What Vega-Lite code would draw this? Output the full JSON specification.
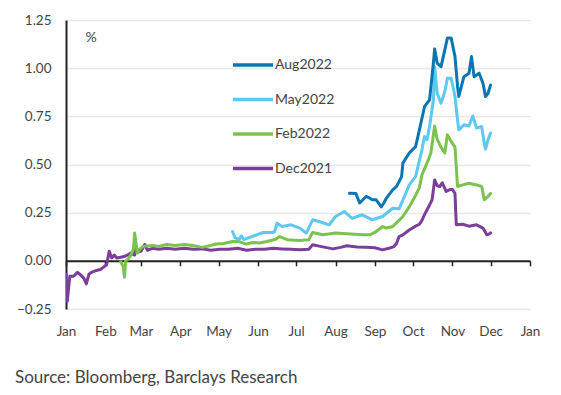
{
  "$schema": "https://vega.github.io/schema/vega-lite/v6.json",
  "width": 464,
  "height": 289,
  "autosize": {"type": "none"},
  "padding": {"left": 66, "top": 20, "right": 31, "bottom": 86},
  "background": "white",
  "config": {
    "font": "Lato",
    "view": {"stroke": null},
    "axis": {"labelFont": "Lato", "labelFontSize": 13.5, "labelColor": "#444444", "titleFont": "Lato"}
  },
  "title": {
    "text": "Source: Bloomberg, Barclays Research",
    "orient": "bottom",
    "anchor": "start",
    "frame": "group",
    "dx": -51,
    "offset": 32,
    "font": "Lato",
    "fontSize": 17,
    "fontWeight": "normal",
    "color": "#444444"
  },
  "data": {
    "values": [
      {"s": "Dec2021", "d": "2022-01-01", "v": -0.07},
      {"s": "Dec2021", "d": "2022-01-02", "v": -0.21},
      {"s": "Dec2021", "d": "2022-01-04", "v": -0.08},
      {"s": "Dec2021", "d": "2022-01-07", "v": -0.08},
      {"s": "Dec2021", "d": "2022-01-10", "v": -0.06},
      {"s": "Dec2021", "d": "2022-01-12", "v": -0.07},
      {"s": "Dec2021", "d": "2022-01-15", "v": -0.09},
      {"s": "Dec2021", "d": "2022-01-17", "v": -0.12},
      {"s": "Dec2021", "d": "2022-01-19", "v": -0.07},
      {"s": "Dec2021", "d": "2022-01-21", "v": -0.06},
      {"s": "Dec2021", "d": "2022-01-25", "v": -0.05},
      {"s": "Dec2021", "d": "2022-01-28", "v": -0.045},
      {"s": "Dec2021", "d": "2022-01-30", "v": -0.035},
      {"s": "Dec2021", "d": "2022-02-02", "v": -0.02},
      {"s": "Dec2021", "d": "2022-02-04", "v": 0.05},
      {"s": "Dec2021", "d": "2022-02-06", "v": 0.015},
      {"s": "Dec2021", "d": "2022-02-08", "v": 0.03},
      {"s": "Dec2021", "d": "2022-02-10", "v": 0.015},
      {"s": "Dec2021", "d": "2022-02-14", "v": 0.02},
      {"s": "Dec2021", "d": "2022-02-17", "v": 0.025},
      {"s": "Dec2021", "d": "2022-02-21", "v": 0.04},
      {"s": "Dec2021", "d": "2022-02-24", "v": 0.03},
      {"s": "Dec2021", "d": "2022-02-25", "v": 0.075},
      {"s": "Dec2021", "d": "2022-02-27", "v": 0.045},
      {"s": "Dec2021", "d": "2022-03-01", "v": 0.05},
      {"s": "Dec2021", "d": "2022-03-04", "v": 0.085},
      {"s": "Dec2021", "d": "2022-03-06", "v": 0.055},
      {"s": "Dec2021", "d": "2022-03-10", "v": 0.065},
      {"s": "Dec2021", "d": "2022-03-15", "v": 0.06},
      {"s": "Dec2021", "d": "2022-03-21", "v": 0.065},
      {"s": "Dec2021", "d": "2022-03-28", "v": 0.06},
      {"s": "Dec2021", "d": "2022-04-04", "v": 0.065},
      {"s": "Dec2021", "d": "2022-04-11", "v": 0.06},
      {"s": "Dec2021", "d": "2022-04-18", "v": 0.062},
      {"s": "Dec2021", "d": "2022-04-25", "v": 0.055},
      {"s": "Dec2021", "d": "2022-05-02", "v": 0.06},
      {"s": "Dec2021", "d": "2022-05-09", "v": 0.06},
      {"s": "Dec2021", "d": "2022-05-16", "v": 0.065},
      {"s": "Dec2021", "d": "2022-05-23", "v": 0.055},
      {"s": "Dec2021", "d": "2022-05-30", "v": 0.06},
      {"s": "Dec2021", "d": "2022-06-06", "v": 0.06},
      {"s": "Dec2021", "d": "2022-06-13", "v": 0.065},
      {"s": "Dec2021", "d": "2022-06-20", "v": 0.062},
      {"s": "Dec2021", "d": "2022-06-27", "v": 0.06},
      {"s": "Dec2021", "d": "2022-07-04", "v": 0.057},
      {"s": "Dec2021", "d": "2022-07-11", "v": 0.06},
      {"s": "Dec2021", "d": "2022-07-14", "v": 0.083},
      {"s": "Dec2021", "d": "2022-07-20", "v": 0.075},
      {"s": "Dec2021", "d": "2022-07-30", "v": 0.062},
      {"s": "Dec2021", "d": "2022-08-05", "v": 0.07},
      {"s": "Dec2021", "d": "2022-08-10", "v": 0.078},
      {"s": "Dec2021", "d": "2022-08-18", "v": 0.072},
      {"s": "Dec2021", "d": "2022-08-25", "v": 0.07},
      {"s": "Dec2021", "d": "2022-09-01", "v": 0.068},
      {"s": "Dec2021", "d": "2022-09-07", "v": 0.057},
      {"s": "Dec2021", "d": "2022-09-12", "v": 0.065},
      {"s": "Dec2021", "d": "2022-09-16", "v": 0.074},
      {"s": "Dec2021", "d": "2022-09-18", "v": 0.09},
      {"s": "Dec2021", "d": "2022-09-20", "v": 0.126},
      {"s": "Dec2021", "d": "2022-09-23", "v": 0.135},
      {"s": "Dec2021", "d": "2022-09-28", "v": 0.16},
      {"s": "Dec2021", "d": "2022-10-03", "v": 0.18},
      {"s": "Dec2021", "d": "2022-10-06", "v": 0.19},
      {"s": "Dec2021", "d": "2022-10-08", "v": 0.21},
      {"s": "Dec2021", "d": "2022-10-10", "v": 0.24},
      {"s": "Dec2021", "d": "2022-10-12", "v": 0.265},
      {"s": "Dec2021", "d": "2022-10-14", "v": 0.29},
      {"s": "Dec2021", "d": "2022-10-16", "v": 0.317},
      {"s": "Dec2021", "d": "2022-10-18", "v": 0.42},
      {"s": "Dec2021", "d": "2022-10-20", "v": 0.39},
      {"s": "Dec2021", "d": "2022-10-22", "v": 0.385},
      {"s": "Dec2021", "d": "2022-10-24", "v": 0.405},
      {"s": "Dec2021", "d": "2022-10-27", "v": 0.36},
      {"s": "Dec2021", "d": "2022-10-30", "v": 0.37},
      {"s": "Dec2021", "d": "2022-11-01", "v": 0.37},
      {"s": "Dec2021", "d": "2022-11-03", "v": 0.35},
      {"s": "Dec2021", "d": "2022-11-04", "v": 0.187},
      {"s": "Dec2021", "d": "2022-11-09", "v": 0.19},
      {"s": "Dec2021", "d": "2022-11-14", "v": 0.18},
      {"s": "Dec2021", "d": "2022-11-20", "v": 0.187},
      {"s": "Dec2021", "d": "2022-11-25", "v": 0.17},
      {"s": "Dec2021", "d": "2022-11-28", "v": 0.135},
      {"s": "Dec2021", "d": "2022-11-30", "v": 0.14},
      {"s": "Dec2021", "d": "2022-12-01", "v": 0.145},

      {"s": "Feb2022", "d": "2022-02-13", "v": -0.005},
      {"s": "Feb2022", "d": "2022-02-15", "v": -0.03},
      {"s": "Feb2022", "d": "2022-02-16", "v": -0.085},
      {"s": "Feb2022", "d": "2022-02-17", "v": 0.0},
      {"s": "Feb2022", "d": "2022-02-19", "v": 0.01},
      {"s": "Feb2022", "d": "2022-02-21", "v": 0.03},
      {"s": "Feb2022", "d": "2022-02-23", "v": 0.06},
      {"s": "Feb2022", "d": "2022-02-24", "v": 0.145},
      {"s": "Feb2022", "d": "2022-02-26", "v": 0.04},
      {"s": "Feb2022", "d": "2022-02-28", "v": 0.06},
      {"s": "Feb2022", "d": "2022-03-03", "v": 0.075},
      {"s": "Feb2022", "d": "2022-03-10", "v": 0.08},
      {"s": "Feb2022", "d": "2022-03-15", "v": 0.075},
      {"s": "Feb2022", "d": "2022-03-21", "v": 0.085},
      {"s": "Feb2022", "d": "2022-03-28", "v": 0.08},
      {"s": "Feb2022", "d": "2022-04-04", "v": 0.085},
      {"s": "Feb2022", "d": "2022-04-11", "v": 0.08},
      {"s": "Feb2022", "d": "2022-04-18", "v": 0.07},
      {"s": "Feb2022", "d": "2022-04-25", "v": 0.08},
      {"s": "Feb2022", "d": "2022-04-29", "v": 0.087},
      {"s": "Feb2022", "d": "2022-05-05", "v": 0.09},
      {"s": "Feb2022", "d": "2022-05-12", "v": 0.1},
      {"s": "Feb2022", "d": "2022-05-17", "v": 0.1},
      {"s": "Feb2022", "d": "2022-05-23", "v": 0.087},
      {"s": "Feb2022", "d": "2022-05-28", "v": 0.095},
      {"s": "Feb2022", "d": "2022-06-02", "v": 0.093},
      {"s": "Feb2022", "d": "2022-06-08", "v": 0.1},
      {"s": "Feb2022", "d": "2022-06-15", "v": 0.112},
      {"s": "Feb2022", "d": "2022-06-18", "v": 0.126},
      {"s": "Feb2022", "d": "2022-06-24", "v": 0.11},
      {"s": "Feb2022", "d": "2022-07-04", "v": 0.105},
      {"s": "Feb2022", "d": "2022-07-11", "v": 0.11},
      {"s": "Feb2022", "d": "2022-07-14", "v": 0.147},
      {"s": "Feb2022", "d": "2022-07-22", "v": 0.135},
      {"s": "Feb2022", "d": "2022-08-01", "v": 0.144},
      {"s": "Feb2022", "d": "2022-08-10", "v": 0.14},
      {"s": "Feb2022", "d": "2022-08-22", "v": 0.135},
      {"s": "Feb2022", "d": "2022-08-28", "v": 0.135},
      {"s": "Feb2022", "d": "2022-09-02", "v": 0.152},
      {"s": "Feb2022", "d": "2022-09-07", "v": 0.178},
      {"s": "Feb2022", "d": "2022-09-10", "v": 0.17},
      {"s": "Feb2022", "d": "2022-09-15", "v": 0.178},
      {"s": "Feb2022", "d": "2022-09-18", "v": 0.197},
      {"s": "Feb2022", "d": "2022-09-23", "v": 0.23},
      {"s": "Feb2022", "d": "2022-09-28", "v": 0.28},
      {"s": "Feb2022", "d": "2022-10-03", "v": 0.34},
      {"s": "Feb2022", "d": "2022-10-06", "v": 0.38},
      {"s": "Feb2022", "d": "2022-10-08", "v": 0.446},
      {"s": "Feb2022", "d": "2022-10-12", "v": 0.507},
      {"s": "Feb2022", "d": "2022-10-15", "v": 0.56},
      {"s": "Feb2022", "d": "2022-10-18", "v": 0.70},
      {"s": "Feb2022", "d": "2022-10-20", "v": 0.63},
      {"s": "Feb2022", "d": "2022-10-23", "v": 0.59},
      {"s": "Feb2022", "d": "2022-10-26", "v": 0.56},
      {"s": "Feb2022", "d": "2022-10-28", "v": 0.654},
      {"s": "Feb2022", "d": "2022-10-31", "v": 0.62},
      {"s": "Feb2022", "d": "2022-11-03", "v": 0.59},
      {"s": "Feb2022", "d": "2022-11-05", "v": 0.386},
      {"s": "Feb2022", "d": "2022-11-09", "v": 0.394},
      {"s": "Feb2022", "d": "2022-11-14", "v": 0.403},
      {"s": "Feb2022", "d": "2022-11-20", "v": 0.394},
      {"s": "Feb2022", "d": "2022-11-24", "v": 0.386},
      {"s": "Feb2022", "d": "2022-11-26", "v": 0.317},
      {"s": "Feb2022", "d": "2022-11-29", "v": 0.334},
      {"s": "Feb2022", "d": "2022-12-01", "v": 0.35},

      {"s": "May2022", "d": "2022-05-12", "v": 0.152},
      {"s": "May2022", "d": "2022-05-14", "v": 0.12},
      {"s": "May2022", "d": "2022-05-17", "v": 0.11},
      {"s": "May2022", "d": "2022-05-19", "v": 0.13},
      {"s": "May2022", "d": "2022-05-21", "v": 0.11},
      {"s": "May2022", "d": "2022-05-25", "v": 0.12},
      {"s": "May2022", "d": "2022-05-31", "v": 0.135},
      {"s": "May2022", "d": "2022-06-05", "v": 0.147},
      {"s": "May2022", "d": "2022-06-12", "v": 0.147},
      {"s": "May2022", "d": "2022-06-14", "v": 0.15},
      {"s": "May2022", "d": "2022-06-16", "v": 0.195},
      {"s": "May2022", "d": "2022-06-20", "v": 0.178},
      {"s": "May2022", "d": "2022-06-27", "v": 0.187},
      {"s": "May2022", "d": "2022-07-04", "v": 0.17},
      {"s": "May2022", "d": "2022-07-09", "v": 0.144},
      {"s": "May2022", "d": "2022-07-14", "v": 0.213},
      {"s": "May2022", "d": "2022-07-19", "v": 0.204},
      {"s": "May2022", "d": "2022-07-27", "v": 0.187},
      {"s": "May2022", "d": "2022-08-01", "v": 0.23},
      {"s": "May2022", "d": "2022-08-08", "v": 0.256},
      {"s": "May2022", "d": "2022-08-14", "v": 0.22},
      {"s": "May2022", "d": "2022-08-22", "v": 0.239},
      {"s": "May2022", "d": "2022-08-30", "v": 0.213},
      {"s": "May2022", "d": "2022-09-07", "v": 0.23},
      {"s": "May2022", "d": "2022-09-15", "v": 0.273},
      {"s": "May2022", "d": "2022-09-20", "v": 0.27},
      {"s": "May2022", "d": "2022-09-24", "v": 0.33},
      {"s": "May2022", "d": "2022-09-28", "v": 0.394},
      {"s": "May2022", "d": "2022-10-03", "v": 0.437},
      {"s": "May2022", "d": "2022-10-08", "v": 0.576},
      {"s": "May2022", "d": "2022-10-10", "v": 0.645},
      {"s": "May2022", "d": "2022-10-12", "v": 0.628},
      {"s": "May2022", "d": "2022-10-14", "v": 0.697},
      {"s": "May2022", "d": "2022-10-17", "v": 0.835},
      {"s": "May2022", "d": "2022-10-18", "v": 1.008},
      {"s": "May2022", "d": "2022-10-20", "v": 0.87},
      {"s": "May2022", "d": "2022-10-23", "v": 0.818},
      {"s": "May2022", "d": "2022-10-26", "v": 0.879},
      {"s": "May2022", "d": "2022-10-28", "v": 0.948},
      {"s": "May2022", "d": "2022-10-31", "v": 0.948},
      {"s": "May2022", "d": "2022-11-03", "v": 0.853},
      {"s": "May2022", "d": "2022-11-05", "v": 0.73},
      {"s": "May2022", "d": "2022-11-06", "v": 0.68},
      {"s": "May2022", "d": "2022-11-10", "v": 0.706},
      {"s": "May2022", "d": "2022-11-14", "v": 0.70},
      {"s": "May2022", "d": "2022-11-17", "v": 0.752},
      {"s": "May2022", "d": "2022-11-20", "v": 0.689},
      {"s": "May2022", "d": "2022-11-24", "v": 0.697},
      {"s": "May2022", "d": "2022-11-26", "v": 0.61},
      {"s": "May2022", "d": "2022-11-27", "v": 0.58},
      {"s": "May2022", "d": "2022-11-29", "v": 0.628},
      {"s": "May2022", "d": "2022-12-01", "v": 0.663},

      {"s": "Aug2022", "d": "2022-08-12", "v": 0.351},
      {"s": "Aug2022", "d": "2022-08-17", "v": 0.35},
      {"s": "Aug2022", "d": "2022-08-20", "v": 0.30},
      {"s": "Aug2022", "d": "2022-08-25", "v": 0.334},
      {"s": "Aug2022", "d": "2022-08-28", "v": 0.325},
      {"s": "Aug2022", "d": "2022-08-30", "v": 0.317},
      {"s": "Aug2022", "d": "2022-09-02", "v": 0.317},
      {"s": "Aug2022", "d": "2022-09-06", "v": 0.28},
      {"s": "Aug2022", "d": "2022-09-08", "v": 0.30},
      {"s": "Aug2022", "d": "2022-09-10", "v": 0.325},
      {"s": "Aug2022", "d": "2022-09-12", "v": 0.342},
      {"s": "Aug2022", "d": "2022-09-15", "v": 0.368},
      {"s": "Aug2022", "d": "2022-09-18", "v": 0.386},
      {"s": "Aug2022", "d": "2022-09-22", "v": 0.437},
      {"s": "Aug2022", "d": "2022-09-23", "v": 0.507},
      {"s": "Aug2022", "d": "2022-09-28", "v": 0.56},
      {"s": "Aug2022", "d": "2022-10-03", "v": 0.593},
      {"s": "Aug2022", "d": "2022-10-06", "v": 0.68},
      {"s": "Aug2022", "d": "2022-10-10", "v": 0.80},
      {"s": "Aug2022", "d": "2022-10-14", "v": 0.835},
      {"s": "Aug2022", "d": "2022-10-17", "v": 1.026},
      {"s": "Aug2022", "d": "2022-10-18", "v": 1.10},
      {"s": "Aug2022", "d": "2022-10-20", "v": 1.026},
      {"s": "Aug2022", "d": "2022-10-23", "v": 1.008},
      {"s": "Aug2022", "d": "2022-10-26", "v": 1.095},
      {"s": "Aug2022", "d": "2022-10-28", "v": 1.156},
      {"s": "Aug2022", "d": "2022-10-31", "v": 1.156},
      {"s": "Aug2022", "d": "2022-11-03", "v": 1.06},
      {"s": "Aug2022", "d": "2022-11-05", "v": 0.905},
      {"s": "Aug2022", "d": "2022-11-06", "v": 0.853},
      {"s": "Aug2022", "d": "2022-11-10", "v": 0.956},
      {"s": "Aug2022", "d": "2022-11-14", "v": 0.974},
      {"s": "Aug2022", "d": "2022-11-16", "v": 1.06},
      {"s": "Aug2022", "d": "2022-11-18", "v": 0.956},
      {"s": "Aug2022", "d": "2022-11-22", "v": 0.974},
      {"s": "Aug2022", "d": "2022-11-25", "v": 0.922},
      {"s": "Aug2022", "d": "2022-11-27", "v": 0.853},
      {"s": "Aug2022", "d": "2022-11-29", "v": 0.87},
      {"s": "Aug2022", "d": "2022-12-01", "v": 0.913}
    ]
  },
  "mark": {"type": "line", "strokeWidth": 3, "strokeJoin": "round", "strokeCap": "round", "clip": true},
  "encoding": {
    "x": {
      "field": "d",
      "type": "temporal",
      "scale": {"domain": [{"year": 2022, "month": 1, "date": 1}, {"year": 2023, "month": 1, "date": 1}]},
      "axis": {
        "title": null,
        "format": "%b",
        "tickCount": {"interval": "month", "step": 1},
        "offset": -48.2,
        "domainColor": "#222222",
        "domainWidth": 2,
        "tickColor": "#222222",
        "tickWidth": 1.5,
        "tickSize": 5,
        "labelPadding": 59,
        "labelAlign": "center",
        "grid": false
      }
    },
    "y": {
      "field": "v",
      "type": "quantitative",
      "scale": {"domain": [-0.25, 1.25], "nice": false, "zero": false},
      "axis": {
        "title": "%",
        "titleAngle": 0,
        "titleX": 19,
        "titleY": 17,
        "titleAlign": "left",
        "titleBaseline": "middle",
        "titleFontSize": 14,
        "titleFontWeight": "normal",
        "titleColor": "#444444",
        "values": [-0.25, 0, 0.25, 0.5, 0.75, 1, 1.25],
        "format": ".2f",
        "domainColor": "#222222",
        "domainWidth": 2,
        "ticks": false,
        "labelPadding": 15,
        "grid": true,
        "gridColor": "#e8e8e8",
        "gridWidth": 1.5
      }
    },
    "color": {
      "field": "s",
      "type": "nominal",
      "scale": {
        "domain": ["Aug2022", "May2022", "Feb2022", "Dec2021"],
        "range": ["#0a76b2", "#5dc8f0", "#7cc24f", "#7b3f99"]
      },
      "legend": {
        "title": null,
        "orient": "none",
        "legendX": 165,
        "legendY": 23,
        "symbolType": "stroke",
        "symbolSize": 1600,
        "symbolStrokeWidth": 3.5,
        "labelFont": "Lato",
        "labelFontSize": 14,
        "labelColor": "#444444",
        "labelOffset": 0,
        "rowPadding": 5.5
      }
    }
  }
}
